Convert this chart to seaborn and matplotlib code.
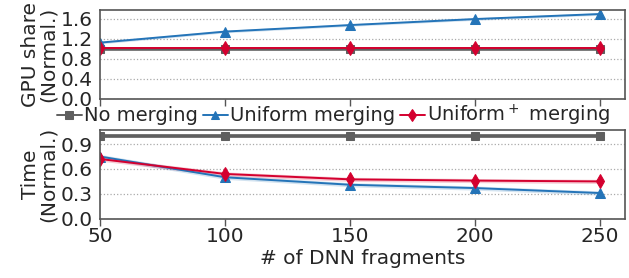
import numpy as np
import pandas as pd
import seaborn as sns
import matplotlib.pyplot as plt

sns.set_style("white")
plt.rcParams['font.family'] = ['DejaVu Sans']

fragments = [50, 100, 150, 200, 250]
methods = ['No merging', 'Uniform merging', 'Uniform$^+$ merging']

gpu_none = [1.0, 1.0, 1.0, 1.0, 1.0]
gpu_uniform = [1.12, 1.34, 1.47, 1.59, 1.69]
gpu_plus = [1.01, 1.01, 1.01, 1.01, 1.01]

time_none = [1.0, 1.0, 1.0, 1.0, 1.0]
time_uniform = [0.75, 0.50, 0.41, 0.37, 0.31]
time_plus = [0.72, 0.54, 0.475, 0.46, 0.45]

colors = ['#5f5f5f', '#2474b8', '#d4002f']
markers = ['s', '^', 'd']
band = 0.025

def long_df(series):
    rows = []
    for m, vals in zip(methods, series):
        for x, v in zip(fragments, vals):
            rows.append({'frag': x, 'val': v, 'method': m})
    return pd.DataFrame(rows)

gpu = long_df([gpu_none, gpu_uniform, gpu_plus])
tim = long_df([time_none, time_uniform, time_plus])

fig, (ax1, ax2) = plt.subplots(2, 1, figsize=(6.29, 2.78), dpi=100)
fig.subplots_adjust(left=0.159, right=0.994, top=0.964, bottom=0.213, hspace=0.35)

for ax, df in [(ax1, gpu), (ax2, tim)]:
    for i, m in enumerate(methods):
        d = df[df.method == m]
        ax.fill_between(d.frag, d.val - band, d.val + band, color=colors[i], alpha=0.2, lw=0)
    sns.lineplot(data=df, x='frag', y='val', hue='method', style='method',
                 palette=colors, markers=markers, dashes=False, ax=ax,
                 markersize=7, lw=1.4, markeredgecolor=None, legend=(ax is ax1))
    lines = ax.get_lines()
    lines[0].set_linewidth(2.6)
    lines[0].set_markersize(6)
    ax.set_xlim(50, 260)
    ax.set_xticks(fragments)
    ax.yaxis.grid(True, ls=':', color='#aaaaaa', lw=0.9)
    for s in ax.spines.values():
        s.set_color('#555555')
        s.set_linewidth(1.2)
    ax.tick_params(axis='both', labelsize=14.5, pad=1, length=4, width=1, color='#555555')
    ax.tick_params(axis='x', direction='out', bottom=True, length=5)

ax1.set_ylim(0, 1.77)
ax1.set_yticks([0.0, 0.4, 0.8, 1.2, 1.6])
ax1.set_yticklabels(['0.0', '0.4', '0.8', '1.2', '1.6'])
ax1.set_xticklabels([])
ax1.set_xlabel('')
ax1.set_ylabel('GPU share\n(Normal.)', fontsize=14.5, labelpad=2, linespacing=0.95)

ax2.set_ylim(0, 1.07)
ax2.set_yticks([0.0, 0.3, 0.6, 0.9])
ax2.set_yticklabels(['0.0', '0.3', '0.6', '0.9'])
ax2.set_xlabel('# of DNN fragments', fontsize=14.5, labelpad=2)
ax2.set_ylabel('Time\n(Normal.)', fontsize=14.5, labelpad=2, linespacing=0.95)

handles, labels = ax1.get_legend_handles_labels()
for h in handles:
    h.set_markersize(6)
    h.set_linewidth(1.4)
ax1.get_legend().remove()
fig.legend(handles, labels, loc='center left', bbox_to_anchor=(0.09, 0.585), ncol=3,
           frameon=False, fontsize=14, handlelength=1.3, handletextpad=0.1,
           columnspacing=0.25, borderaxespad=0, borderpad=0)

fig.savefig('out.png', dpi=100)
